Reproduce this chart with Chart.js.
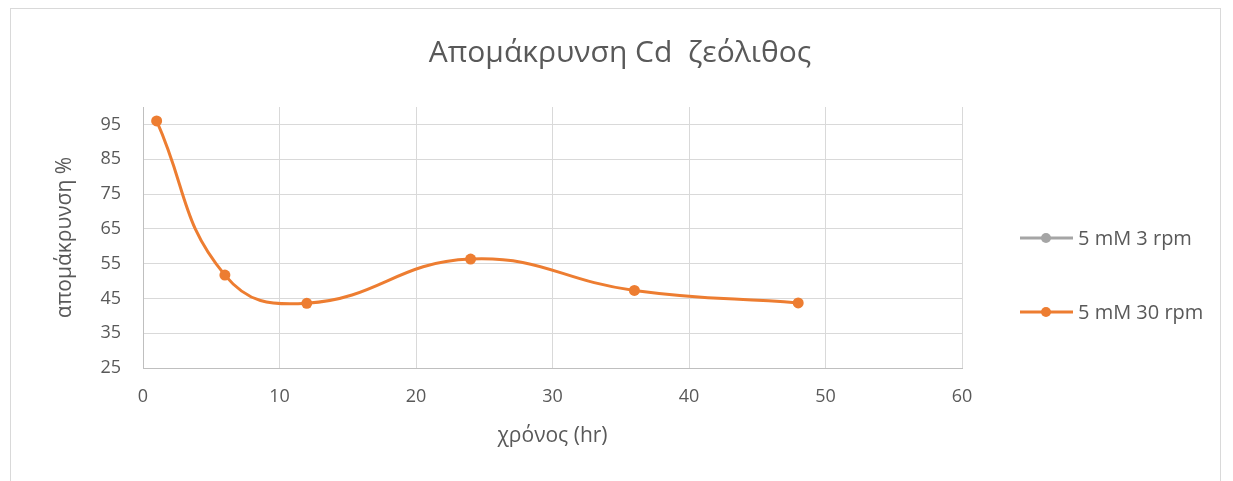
<!DOCTYPE html>
<html>
<head>
<meta charset="utf-8">
<script src="https://cdn.jsdelivr.net/npm/chart.js@4.4.1/dist/chart.umd.min.js"></script>
<style>
  html, body { margin: 0; padding: 0; background: #fff; }
  #wrap { position: relative; width: 1233px; height: 481px; overflow: hidden; }
  #frame {
    position: absolute; left: 10px; top: 8px; width: 1211px; height: 500px;
    border: 1px solid #d9d9d9; box-sizing: border-box;
  }
  #chart { position: absolute; left: 0; top: 0; }
</style>
</head>
<body>
<div id="wrap">
  <div id="frame"></div>
  <canvas id="chart" width="1233" height="481"></canvas>
</div>
<script>
const hours = [1, 6, 12, 24, 36, 48];
const removal30 = [96.0, 51.7, 43.6, 56.3, 47.3, 43.7];
const removal3 = [];
const seriesNames = ["5 mM 3 rpm", "5 mM 30 rpm"];
const seriesColors = ["#a5a5a5", "#ed7d31"];
const yTicks = [25, 35, 45, 55, 65, 75, 85, 95];
const chartTitle = "Απομάκρυνση Cd  ζεόλιθος";

const textColor = "#595959";
const fontFamily = "'Open Sans', 'Noto Sans', sans-serif";

function toPoints(xs, ys) {
  return ys.map((y, i) => ({ x: xs[i], y }));
}

// Title centred on the whole frame, not just the plot area
const frameTitle = {
  id: "frameTitle",
  afterDraw(chart) {
    const { ctx } = chart;
    ctx.save();
    ctx.font = `30px ${fontFamily}`;
    ctx.fillStyle = textColor;
    ctx.textAlign = "center";
    ctx.textBaseline = "middle";
    ctx.fillText(chartTitle, 620, 53);
    ctx.restore();
  },
};

// Excel-style legend: short line with a dot, items spaced well apart
const sideLegend = {
  id: "sideLegend",
  afterDraw(chart) {
    const { ctx } = chart;
    const rows = [238, 312];
    ctx.save();
    ctx.font = `20px ${fontFamily}`;
    ctx.textBaseline = "middle";
    ctx.textAlign = "left";
    seriesNames.forEach((name, i) => {
      const y = rows[i];
      ctx.strokeStyle = seriesColors[i];
      ctx.lineWidth = 3;
      ctx.beginPath();
      ctx.moveTo(1020, y);
      ctx.lineTo(1073, y);
      ctx.stroke();
      ctx.fillStyle = seriesColors[i];
      ctx.beginPath();
      ctx.arc(1046, y, 5, 0, Math.PI * 2);
      ctx.fill();
      ctx.fillStyle = textColor;
      ctx.fillText(name, 1078, y + 1);
    });
    ctx.restore();
  },
};

const ctx = document.getElementById("chart").getContext("2d");
new Chart(ctx, {
  type: "scatter",
  data: {
    datasets: [
      {
        label: seriesNames[0],
        data: toPoints(hours, removal3),
        showLine: true,
        borderColor: seriesColors[0],
        backgroundColor: seriesColors[0],
        borderWidth: 3,
        pointRadius: 5,
      },
      {
        label: seriesNames[1],
        data: toPoints(hours, removal30),
        showLine: true,
        tension: 0.45,
        borderColor: seriesColors[1],
        backgroundColor: seriesColors[1],
        borderWidth: 3,
        pointRadius: 5.5,
        pointBorderWidth: 0,
      },
    ],
  },
  plugins: [frameTitle, sideLegend],
  options: {
    responsive: false,
    animation: false,
    events: [],
    layout: {
      padding: { top: 107, right: 271, bottom: 28, left: 48 },
    },
    plugins: {
      legend: { display: false },
      tooltip: { enabled: false },
    },
    scales: {
      x: {
        type: "linear",
        min: 0,
        max: 60,
        ticks: {
          stepSize: 10,
          color: textColor,
          font: { family: fontFamily, size: 18 },
          padding: 18,
        },
        grid: { color: "#d9d9d9", drawTicks: false },
        border: { color: "#bfbfbf" },
        title: {
          display: true,
          text: "χρόνος (hr)",
          color: textColor,
          font: { family: fontFamily, size: 21 },
          padding: { top: 4, bottom: 4 },
        },
        afterFit(scale) { scale.height = 85; },
      },
      y: {
        min: 25,
        max: 100,
        afterBuildTicks(scale) {
          scale.ticks = yTicks.map((v) => ({ value: v }));
        },
        ticks: {
          color: textColor,
          font: { family: fontFamily, size: 18 },
          padding: 22,
        },
        grid: { color: "#d9d9d9", drawTicks: false },
        border: { color: "#bfbfbf" },
        title: {
          display: true,
          text: "απομάκρυνση %",
          color: textColor,
          font: { family: fontFamily, size: 21 },
        },
        afterFit(scale) { scale.width = 95; },
      },
    },
  },
});
</script>
</body>
</html>
